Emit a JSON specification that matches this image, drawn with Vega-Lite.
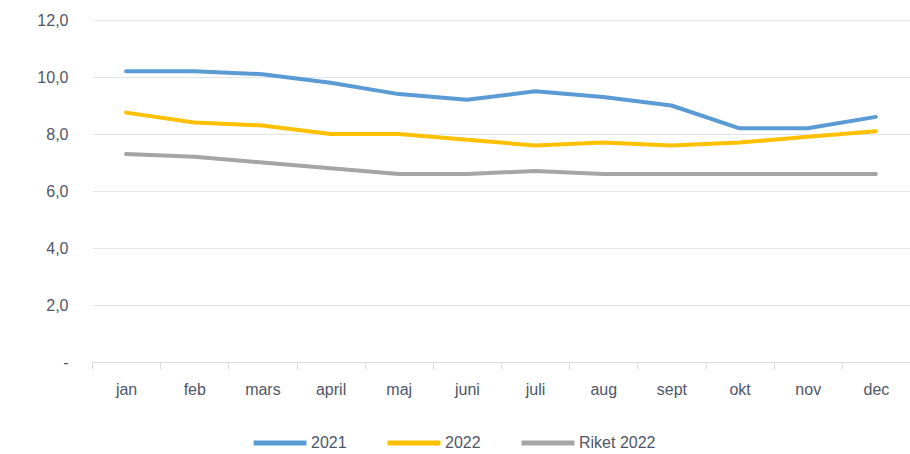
{
  "$schema": "https://vega.github.io/schema/vega-lite/v6.json",
  "width": 818,
  "height": 342,
  "autosize": {"type": "none"},
  "padding": {"left": 92, "top": 20, "right": 0, "bottom": 92},
  "background": "white",
  "config": {
    "view": {"stroke": null},
    "font": "Liberation Sans Narrow, Liberation Sans, sans-serif",
    "axis": {"labelFont": "Liberation Sans Narrow, Liberation Sans, sans-serif", "labelFontSize": 16, "labelColor": "#4f5668"},
    "legend": {"labelFont": "Liberation Sans Narrow, Liberation Sans, sans-serif", "labelFontSize": 16, "labelColor": "#4f5668"}
  },
  "data": {
    "values": [
      {"month": "jan", "series": "2021", "value": 10.2},
      {"month": "feb", "series": "2021", "value": 10.2},
      {"month": "mars", "series": "2021", "value": 10.1},
      {"month": "april", "series": "2021", "value": 9.8},
      {"month": "maj", "series": "2021", "value": 9.4},
      {"month": "juni", "series": "2021", "value": 9.2},
      {"month": "juli", "series": "2021", "value": 9.5},
      {"month": "aug", "series": "2021", "value": 9.3},
      {"month": "sept", "series": "2021", "value": 9.0},
      {"month": "okt", "series": "2021", "value": 8.2},
      {"month": "nov", "series": "2021", "value": 8.2},
      {"month": "dec", "series": "2021", "value": 8.6},
      {"month": "jan", "series": "2022", "value": 8.75},
      {"month": "feb", "series": "2022", "value": 8.4},
      {"month": "mars", "series": "2022", "value": 8.3},
      {"month": "april", "series": "2022", "value": 8.0},
      {"month": "maj", "series": "2022", "value": 8.0},
      {"month": "juni", "series": "2022", "value": 7.8},
      {"month": "juli", "series": "2022", "value": 7.6},
      {"month": "aug", "series": "2022", "value": 7.7},
      {"month": "sept", "series": "2022", "value": 7.6},
      {"month": "okt", "series": "2022", "value": 7.7},
      {"month": "nov", "series": "2022", "value": 7.9},
      {"month": "dec", "series": "2022", "value": 8.1},
      {"month": "jan", "series": "Riket 2022", "value": 7.3},
      {"month": "feb", "series": "Riket 2022", "value": 7.2},
      {"month": "mars", "series": "Riket 2022", "value": 7.0},
      {"month": "april", "series": "Riket 2022", "value": 6.8},
      {"month": "maj", "series": "Riket 2022", "value": 6.6},
      {"month": "juni", "series": "Riket 2022", "value": 6.6},
      {"month": "juli", "series": "Riket 2022", "value": 6.7},
      {"month": "aug", "series": "Riket 2022", "value": 6.6},
      {"month": "sept", "series": "Riket 2022", "value": 6.6},
      {"month": "okt", "series": "Riket 2022", "value": 6.6},
      {"month": "nov", "series": "Riket 2022", "value": 6.6},
      {"month": "dec", "series": "Riket 2022", "value": 6.6}
    ]
  },
  "mark": {"type": "line", "strokeWidth": 4, "interpolate": "linear", "strokeCap": "round", "strokeJoin": "round"},
  "encoding": {
    "x": {
      "field": "month",
      "type": "nominal",
      "sort": ["jan", "feb", "mars", "april", "maj", "juni", "juli", "aug", "sept", "okt", "nov", "dec"],
      "bandPosition": 0.5,
      "scale": {"type": "band", "paddingInner": 0, "paddingOuter": 0},
      "axis": {
        "title": null,
        "labelAngle": 0,
        "domainColor": "#d9d9d9",
        "tickColor": "#d9d9d9",
        "tickBand": "extent",
        "tickSize": 7,
        "labelPadding": 12,
        "grid": false
      }
    },
    "y": {
      "field": "value",
      "type": "quantitative",
      "scale": {"domain": [0, 12], "nice": false},
      "axis": {
        "title": null,
        "values": [0, 2, 4, 6, 8, 10, 12],
        "labelExpr": "datum.value == 0 ? '-\u00a0\u00a0\u00a0\u00a0' : replace(format(datum.value, '.1f'), '.', ',')",
        "domain": false,
        "ticks": false,
        "labelPadding": 24,
        "gridColor": "#e1e5ec",
        "gridWidth": 1
      }
    },
    "color": {
      "field": "series",
      "type": "nominal",
      "scale": {"domain": ["2021", "2022", "Riket 2022"], "range": ["#5b9bd5", "#ffc000", "#a5a5a5"]},
      "legend": {
        "title": null,
        "orient": "none",
        "direction": "horizontal",
        "legendX": 159,
        "legendY": 394,
        "symbolType": "stroke",
        "symbolSize": 2800,
        "symbolStrokeWidth": 5,
        "labelOffset": 2,
        "columnPadding": 30
      }
    }
  }
}
